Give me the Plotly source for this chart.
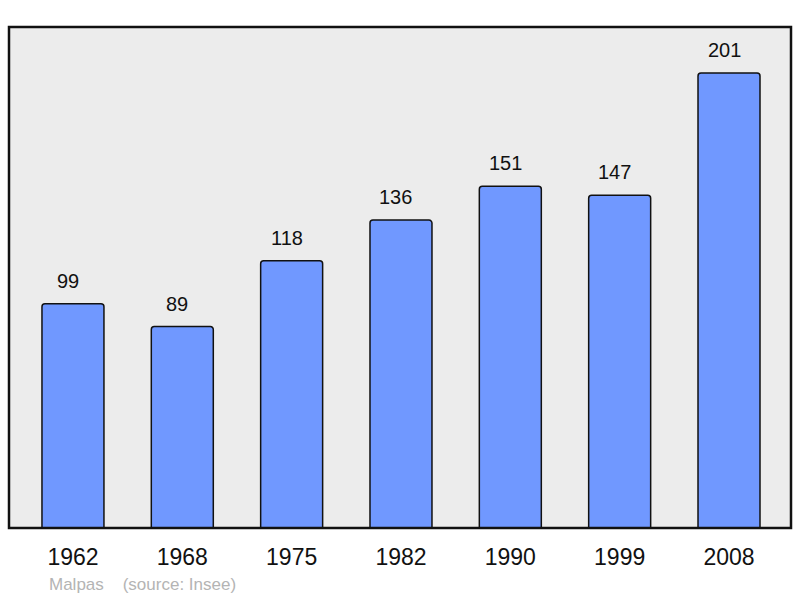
import plotly.graph_objects as go

years = ["1962", "1968", "1975", "1982", "1990", "1999", "2008"]
population = [99, 89, 118, 136, 151, 147, 201]
footer = "Malpas    (source: Insee)"

xs = list(range(len(years)))
FONT = "Liberation Sans, Arial, sans-serif"

fig = go.Figure()
fig.add_trace(go.Bar(
    x=xs, y=population, width=0.567,
    marker=dict(color="#7098ff", line=dict(color="#111111", width=1.5), cornerradius=3),
    hoverinfo="skip",
))

annotations = [dict(x=x, y=v, text=str(v), xref="x", yref="y", showarrow=False,
                    yanchor="bottom", yshift=10, xshift=-5,
                    font=dict(family=FONT, size=20, color="#111111"))
               for x, v in zip(xs, population)]
annotations.append(dict(text=footer, xref="paper", yref="paper", x=(47 - 9) / 782, y=-(584 - 528) / 501,
                        xanchor="left", yanchor="middle", showarrow=False,
                        font=dict(family=FONT, size=17, color="#b4b4b4")))

fig.update_layout(
    width=800, height=598,
    margin=dict(l=9, r=9, t=27, b=70),
    paper_bgcolor="white", plot_bgcolor="#ececec",
    showlegend=False,
    xaxis=dict(range=[-0.585, 6.567], tickmode="array", tickvals=xs, ticktext=years,
               showgrid=False, zeroline=False, showline=False, ticks="",
               tickfont=dict(family=FONT, size=23, color="#111111")),
    yaxis=dict(range=[0, 221.3], showgrid=False, zeroline=False, showticklabels=False, showline=False),
    shapes=[dict(type="rect", xref="paper", yref="paper", x0=0, y0=0, x1=1, y1=1,
                 line=dict(color="#111111", width=2.5), layer="above")],
    annotations=annotations,
)
fig.update_xaxes(ticklabelstandoff=13)
fig.write_html("out.html", post_script="document.body.style.margin='0';",
               config={"displayModeBar": False})
